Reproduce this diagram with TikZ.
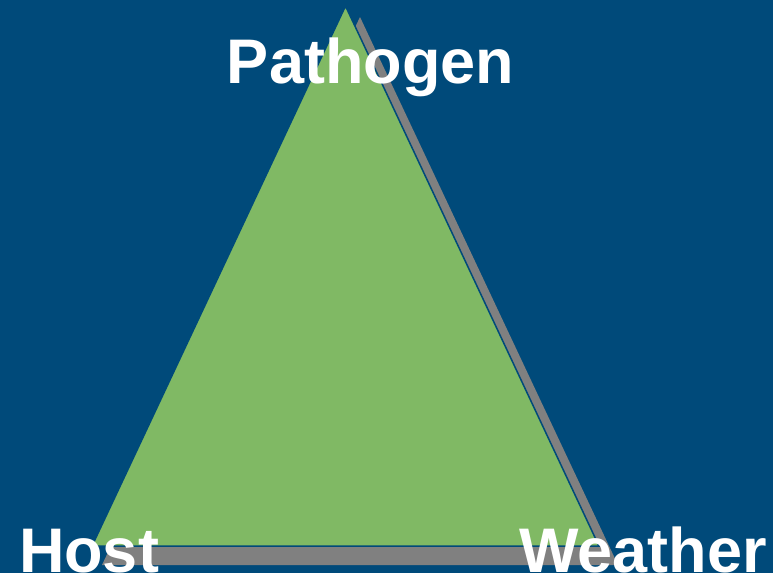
\documentclass[tikz,border=0pt]{standalone}
\usepackage{fontspec}
\setmainfont{Liberation Sans}
\definecolor{bgblue}{HTML}{004A7A}
\definecolor{trigreen}{HTML}{80B964}
\definecolor{shadowgray}{HTML}{808080}
\begin{document}
\begin{tikzpicture}[x=1pt,y=-1pt,
  lbl/.style={text=white,font=\fontsize{63}{63}\selectfont\bfseries,inner sep=0pt,anchor=base}]
\useasboundingbox (0,0) rectangle (773,573);
\fill[bgblue] (0,0) rectangle (773,573);
% shadow
\coordinate (sA) at (360,17);
\coordinate (sB) at (102,565);
\coordinate (sC) at (618,565);
\fill[shadowgray] (sA) -- (sB) -- (sC) -- cycle;
% triangle
\coordinate (tA) at (345.5,6);
\coordinate (tB) at (92,546);
\coordinate (tC) at (599,546);
\fill[trigreen,draw=bgblue,line width=1.5pt] (tA) -- (tB) -- (tC) -- cycle;
\node[lbl] (pathogen) at (370.5,83) {Pathogen};
\node[lbl] (host) at (89,572) {Host};
\node[lbl] (weather) at (643,572) {Weather};
\end{tikzpicture}
\end{document}
